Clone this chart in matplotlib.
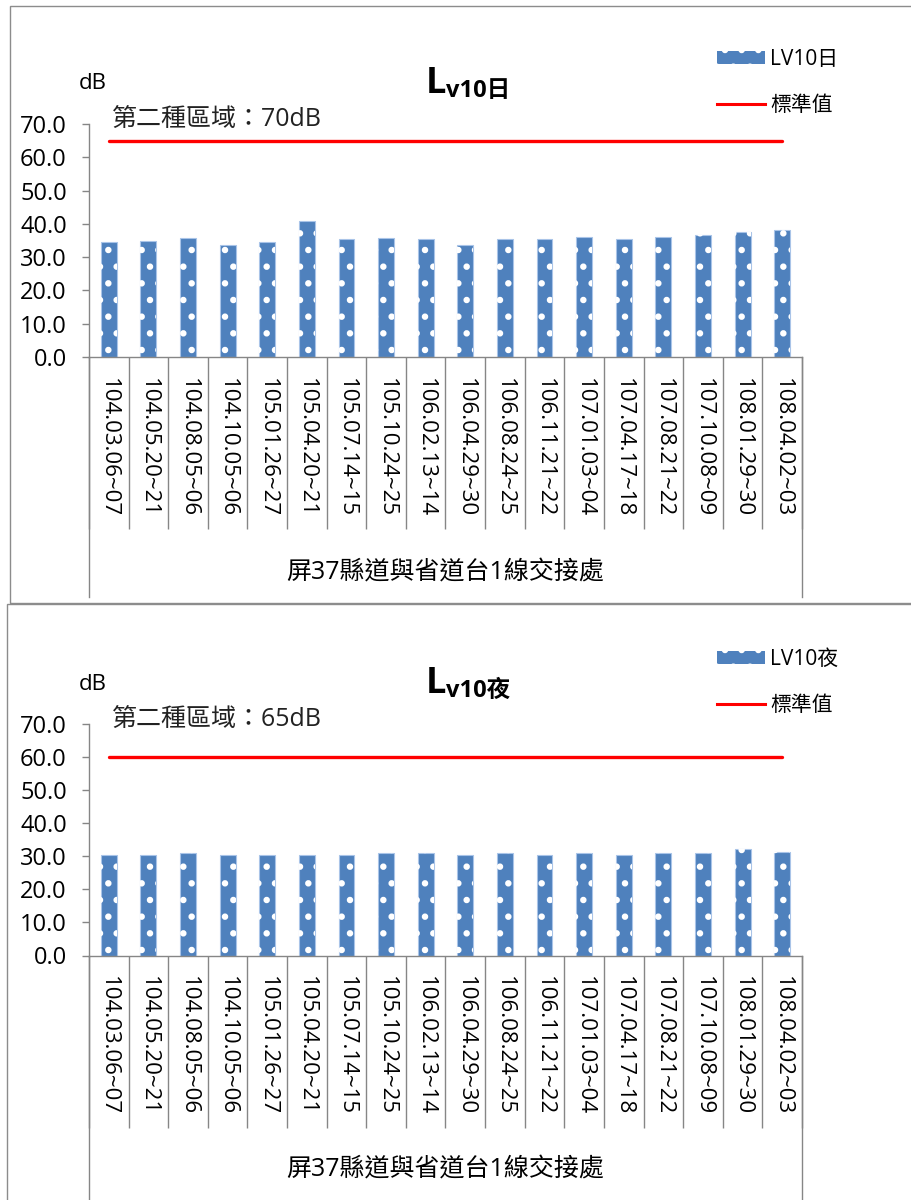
import matplotlib
matplotlib.use("Agg")
import matplotlib.pyplot as plt
from matplotlib.patches import Rectangle, Patch
from matplotlib.lines import Line2D
from matplotlib.transforms import blended_transform_factory

plt.rcParams['font.family'] = ['Open Sans', 'Noto Sans CJK TC', 'DejaVu Sans']
plt.rcParams['hatch.linewidth'] = 2.2

dates = ["104.03.06~07", "104.05.20~21", "104.08.05~06", "104.10.05~06",
         "105.01.26~27", "105.04.20~21", "105.07.14~15", "105.10.24~25",
         "106.02.13~14", "106.04.29~30", "106.08.24~25", "106.11.21~22",
         "107.01.03~04", "107.04.17~18", "107.08.21~22", "107.10.08~09",
         "108.01.29~30", "108.04.02~03"]
lv10_day = [34.6, 35.0, 35.9, 33.7, 34.6, 40.8, 35.4, 35.9, 35.4,
            33.7, 35.4, 35.4, 36.2, 35.4, 36.2, 36.8, 37.6, 38.1]
lv10_night = [30.3, 30.3, 30.9, 30.3, 30.3, 30.3, 30.3, 30.9, 30.9,
              30.3, 30.9, 30.3, 30.9, 30.3, 30.9, 30.9, 32.2, 31.4]
std_day = 65
std_night = 60
site = "屏37縣道與省道台1線交接處"

W, H = 911, 1200
BLUE = '#4F81BD'
GRAY = '#868686'

fig = plt.figure(figsize=(W / 100, H / 100), dpi=100)


def fx(x):
    return x / W


def fy(y):
    return 1 - y / H


def panel(top, bottom, vals, std, series, std_text, sub, border, outer_end):
    # border of the chart area
    x0, y0, x1, y1 = border
    fig.patches.append(Rectangle((fx(x0), fy(y1)), fx(x1 - x0), (y1 - y0) / H,
                                 transform=fig.transFigure, fill=False,
                                 edgecolor='#8c8c8c', linewidth=1.0))

    ax = fig.add_axes([fx(89), fy(bottom), fx(802 - 89), (bottom - top) / H])
    x = list(range(len(dates)))
    ax.bar(x, vals, width=0.4, color=BLUE, edgecolor='#a9c4e8', linewidth=0.8, zorder=2)
    ax.bar(x, vals, width=0.4, facecolor='none', edgecolor='white', hatch='.',
           linewidth=0, zorder=3)
    ax.plot(x, [std] * len(x), color='#FF0000', linewidth=2.4,
            solid_capstyle='round', zorder=4)

    ax.set_xlim(-0.5, len(dates) - 0.5)
    ax.set_ylim(0, 70)
    ax.set_yticks(range(0, 71, 10))
    ax.set_yticklabels([f"{v:.1f}" for v in range(0, 71, 10)])
    ax.tick_params(axis='y', length=5, width=1, color=GRAY, pad=11, labelsize=17)

    ax.set_xticks(x)
    ax.set_xticklabels(dates, rotation=270, fontsize=16, va='top', ha='center')
    ax.tick_params(axis='x', which='major', length=0, pad=15)
    ax.set_xticks([i - 0.5 for i in range(len(dates) + 1)], minor=True)
    ax.tick_params(axis='x', which='minor', length=124, width=1, color=GRAY)

    for s in ['top', 'right']:
        ax.spines[s].set_visible(False)
    for s in ['left', 'bottom']:
        ax.spines[s].set_color(GRAY)
        ax.spines[s].set_linewidth(1.0)

    tr = blended_transform_factory(ax.transData, ax.transAxes)
    for xe in [-0.5, len(dates) - 0.5]:
        ax.plot([xe, xe], [0, outer_end], transform=tr, color=GRAY, linewidth=1.0,
                clip_on=False)

    ax.text(0.5, -0.925, site, transform=ax.transAxes, ha='center', va='center',
            fontsize=18)
    ax.text(-0.014, 1.172, "dB", transform=ax.transAxes, ha='left', va='center',
            fontsize=16)
    ax.text(0.032, 1.02, std_text, transform=ax.transAxes, ha='left', va='center',
            fontsize=18, color='#222222')

    tl = fig.text(fx(426), fy(top - 31), "L", fontsize=26, fontweight='bold',
                  va='baseline', ha='left')
    ax.annotate("v" + "10" + sub, xy=(1, 0), xycoords=tl, xytext=(0, -1),
                textcoords='offset points', ha='left', va='bottom', fontsize=17,
                fontweight='bold', annotation_clip=False)

    handles = [Patch(facecolor=BLUE, edgecolor='white', hatch='.', linewidth=0),
               Line2D([0], [0], color='#FF0000', linewidth=2.2)]
    fig.legend(handles, [series, "標準值"], loc='upper left',
               bbox_to_anchor=(fx(717), fy(top - 75)), frameon=False, fontsize=15,
               handlelength=2.3, handleheight=0.55, handletextpad=0.25,
               labelspacing=1.2, borderpad=0, borderaxespad=0)
    return ax


panel(124, 357, lv10_day, std_day, "LV10日", "第二種區域：70dB", "日",
      (10, 6, 960, 603), -1.03)
panel(724, 955.5, lv10_night, std_night, "LV10夜", "第二種區域：65dB", "夜",
      (7, 604, 960, 1260), -1.1)

fig.savefig("out.png", dpi=100)
